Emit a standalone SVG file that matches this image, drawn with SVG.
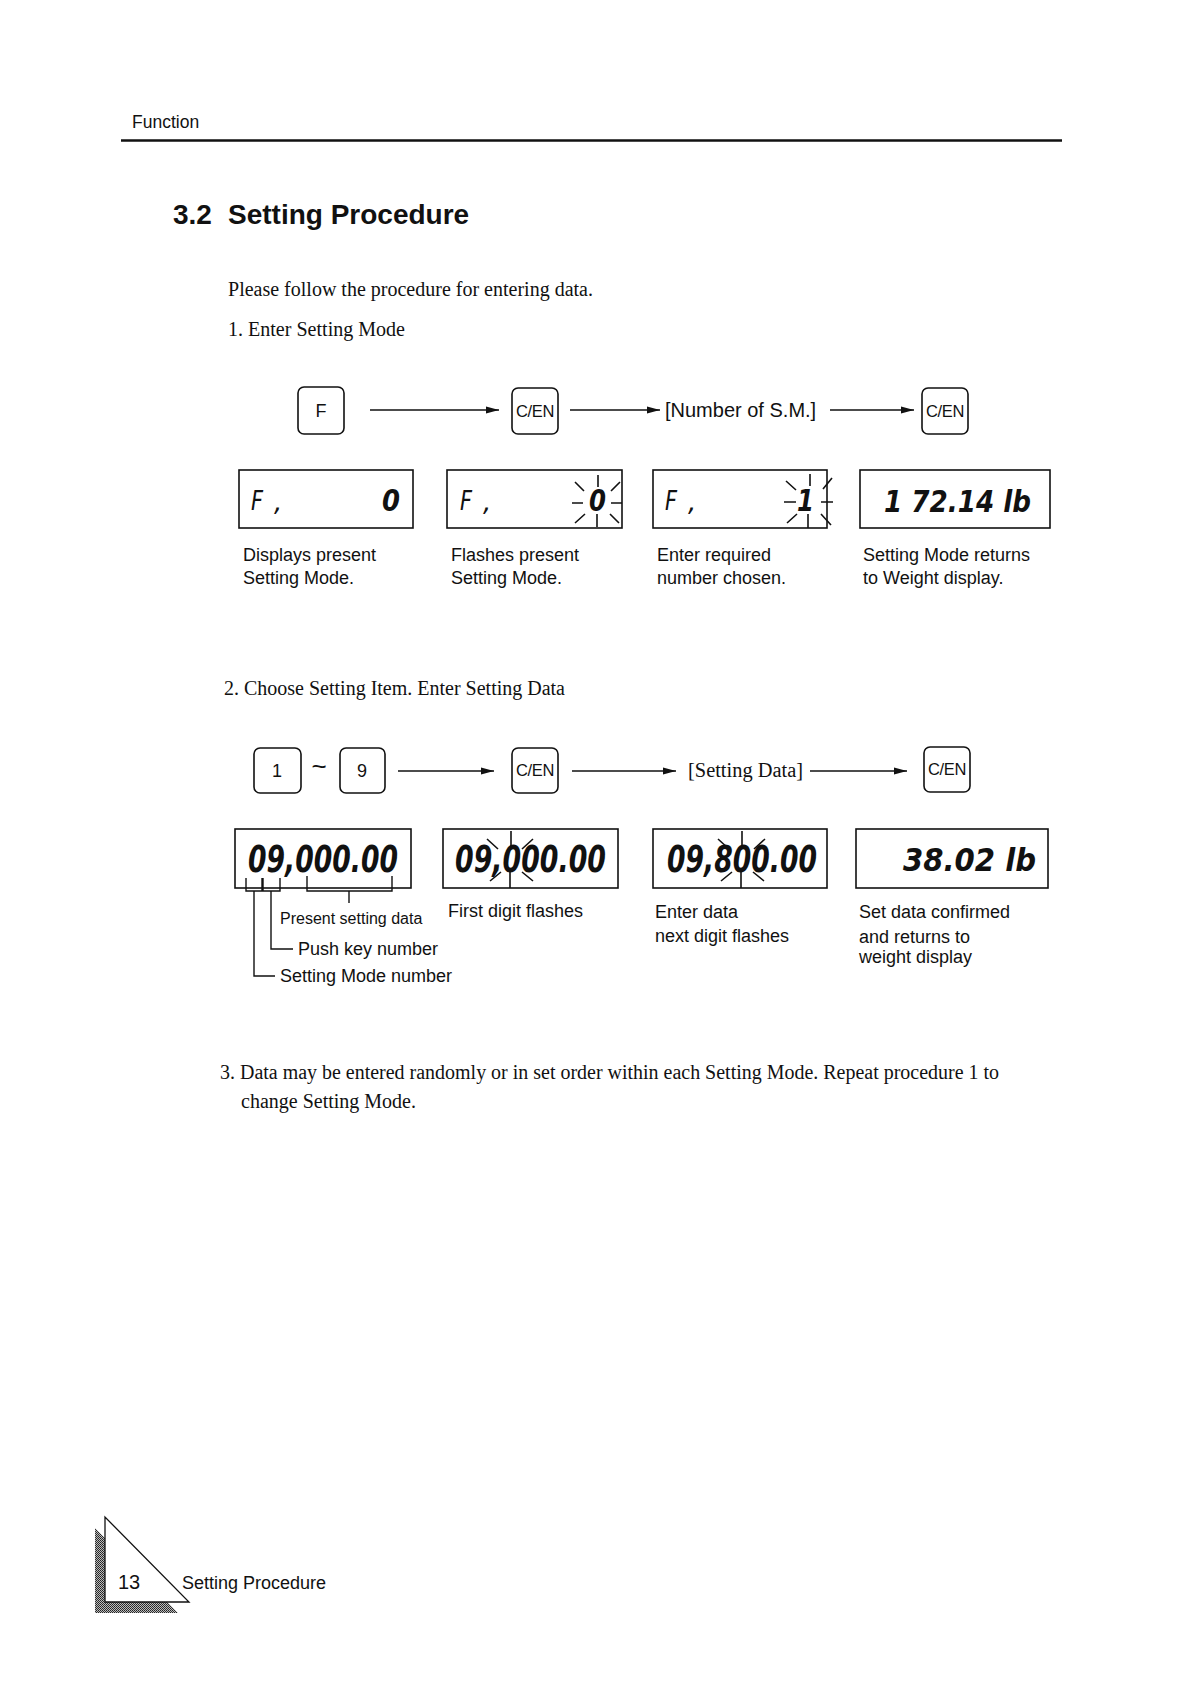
<svg xmlns="http://www.w3.org/2000/svg" width="1186" height="1682" viewBox="0 0 1186 1682">
<style>
.sans{font-family:"Liberation Sans",Arial,sans-serif;fill:#111}
.serif{font-family:"Liberation Serif","Times New Roman",serif;fill:#111;font-size:20px}
.cap{font-size:18px}
.key{fill:#fff;stroke:#111;stroke-width:1.6}
.keyt{font-family:"Liberation Sans",Arial,sans-serif;fill:#111;text-anchor:middle}
.cen{font-size:16.5px;letter-spacing:-0.4px}
.disp{fill:#fff;stroke:#111;stroke-width:1.6}
.lcd{font-family:"DejaVu Sans",sans-serif;font-style:oblique;font-weight:bold;fill:#111}
.lcdt{font-family:"DejaVu Sans",sans-serif;font-style:oblique;font-weight:normal;fill:#111}
.ray{stroke:#111;stroke-width:1.6;fill:none}
.arr{stroke:#111;stroke-width:1.4;fill:none;marker-end:url(#ah)}
.ln{stroke:#111;stroke-width:1.4;fill:none}
</style>
<defs>
<marker id="ah" markerUnits="userSpaceOnUse" markerWidth="13" markerHeight="8" refX="13" refY="4" orient="auto">
<path d="M0,0.5 L13,4 L0,7.5 z" fill="#111"/>
</marker>
<pattern id="dither" width="2" height="2" patternUnits="userSpaceOnUse">
<rect width="2" height="2" fill="#bbb"/>
<rect width="1" height="1" fill="#222"/>
<rect x="1" y="1" width="1" height="1" fill="#333"/>
</pattern>
</defs>
<rect width="1186" height="1682" fill="#fff"/>

<g id="header">
<text class="sans" x="132" y="128" font-size="17.5">Function</text>
<line x1="121" y1="140.5" x2="1062" y2="140.5" stroke="#111" stroke-width="2.6"/>
</g>

<g id="title">
<text class="sans" x="173" y="224" font-size="28" font-weight="bold">3.2</text>
<text class="sans" x="228" y="224" font-size="28" font-weight="bold">Setting Procedure</text>
</g>

<g id="intro">
<text class="serif" x="228" y="296" textLength="365" lengthAdjust="spacingAndGlyphs">Please follow the procedure for entering data.</text>
<text class="serif" x="228" y="336" textLength="177" lengthAdjust="spacingAndGlyphs">1. Enter Setting Mode</text>
</g>

<!-- Row 1 keys -->
<g id="key-F">
<rect class="key" x="298" y="387" width="46" height="47" rx="6"/>
<text class="keyt" x="321" y="417" font-size="18">F</text>
</g>
<g id="key-CEN-1">
<rect class="key" x="512" y="388" width="46" height="46" rx="6"/>
<text class="keyt cen" x="535" y="417">C/EN</text>
</g>
<g id="label-number-sm">
<text class="sans" x="665" y="417" font-size="20">[Number of S.M.]</text>
</g>
<g id="key-CEN-2">
<rect class="key" x="922" y="388" width="46" height="46" rx="6"/>
<text class="keyt cen" x="945" y="417">C/EN</text>
</g>

<!-- Row 1 displays -->
<g id="disp-1-1">
<rect class="disp" x="239" y="470" width="174" height="58"/>
<text class="lcdt" x="251" y="510" font-size="26" textLength="12" lengthAdjust="spacingAndGlyphs">F</text>
<text class="lcdt" x="274" y="511" font-size="26">,</text>
<text class="lcd" x="382" y="511" font-size="30" textLength="18" lengthAdjust="spacingAndGlyphs">0</text>
</g>
<g id="disp-1-2">
<rect class="disp" x="447" y="470" width="175" height="58"/>
<text class="lcdt" x="460" y="510" font-size="26" textLength="12" lengthAdjust="spacingAndGlyphs">F</text>
<text class="lcdt" x="483" y="511" font-size="26">,</text>
<text class="lcd" x="589" y="511" font-size="30" textLength="17" lengthAdjust="spacingAndGlyphs">0</text>
<path class="ray" d="M598,475V487 M597,514V527 M572,503H583 M611,503H622 M575,482L584,491 M620,482L611,491 M575,523L585,514 M610,514L619,523"/>
</g>
<g id="disp-1-3">
<rect class="disp" x="653" y="470" width="174" height="58"/>
<text class="lcdt" x="665" y="510" font-size="26" textLength="12" lengthAdjust="spacingAndGlyphs">F</text>
<text class="lcdt" x="688" y="511" font-size="26">,</text>
<text class="lcd" x="797" y="511" font-size="30" textLength="17" lengthAdjust="spacingAndGlyphs">1</text>
<path class="ray" d="M810,474V486 M808,514V528 M784,502H796 M821,502H833 M786,481L796,490 M832,478L823,489 M787,523L797,514 M821,514L831,525"/>
</g>
<g id="disp-1-4">
<rect class="disp" x="860" y="470" width="190" height="58"/>
<text class="lcd" x="884" y="512" font-size="30" textLength="147" lengthAdjust="spacingAndGlyphs">1 72.14 lb</text>
</g>

<g id="captions-1">
<text class="sans cap" x="243" y="561">Displays present</text>
<text class="sans cap" x="243" y="584">Setting Mode.</text>
<text class="sans cap" x="451" y="561">Flashes present</text>
<text class="sans cap" x="451" y="584">Setting Mode.</text>
<text class="sans cap" x="657" y="561">Enter required</text>
<text class="sans cap" x="657" y="584">number chosen.</text>
<text class="sans cap" x="863" y="561">Setting Mode returns</text>
<text class="sans cap" x="863" y="584">to Weight display.</text>
</g>

<g id="section2">
<text class="serif" x="224" y="695" textLength="341" lengthAdjust="spacingAndGlyphs">2. Choose Setting Item. Enter Setting Data</text>
</g>

<!-- Row 2 keys -->
<g id="key-1">
<rect class="key" x="254" y="748" width="47" height="45" rx="6"/>
<text class="keyt" x="277" y="777" font-size="18">1</text>
</g>
<g id="tilde">
<text class="keyt" x="319" y="775" font-size="26">~</text>
</g>
<g id="key-9">
<rect class="key" x="340" y="748" width="45" height="45" rx="6"/>
<text class="keyt" x="362" y="777" font-size="18">9</text>
</g>
<g id="key-CEN-3">
<rect class="key" x="512" y="748" width="46" height="45" rx="6"/>
<text class="keyt cen" x="535" y="776">C/EN</text>
</g>
<g id="label-setting-data">
<text class="serif" x="688" y="777" textLength="115" lengthAdjust="spacingAndGlyphs">[Setting Data]</text>
</g>
<g id="key-CEN-4">
<rect class="key" x="924" y="747" width="46" height="45" rx="6"/>
<text class="keyt cen" x="947" y="775">C/EN</text>
</g>

<!-- Row 2 displays -->
<g id="disp-2-1">
<rect class="disp" x="235" y="829" width="176" height="59"/>
<text class="lcd" x="248" y="872" font-size="38" textLength="150" lengthAdjust="spacingAndGlyphs">09,000.00</text>
<path class="ln" d="M246,878V891H262V878 M263,878V891H280V878 M307,876V891H392V876 M349,891V903"/>
<path class="ln" d="M254,891V976H275 M271,891V949H293"/>
</g>
<g id="disp-2-2">
<rect class="disp" x="443" y="829" width="175" height="59"/>
<text class="lcd" x="455" y="872" font-size="38" textLength="151" lengthAdjust="spacingAndGlyphs">09,000.00</text>
<path class="ray" d="M511,831V848 M510,870V888 M487,839L498,849 M533,839L522,849 M490,881L501,872 M522,872L533,881"/>
</g>
<g id="disp-2-3">
<rect class="disp" x="653" y="829" width="174" height="59"/>
<text class="lcd" x="667" y="872" font-size="38" textLength="150" lengthAdjust="spacingAndGlyphs">09,800.00</text>
<path class="ray" d="M742,831V848 M741,870V888 M718,839L729,849 M765,839L754,849 M721,881L732,872 M753,872L764,881"/>
</g>
<g id="disp-2-4">
<rect class="disp" x="856" y="829" width="192" height="59"/>
<text class="lcd" x="903" y="871" font-size="32" textLength="133" lengthAdjust="spacingAndGlyphs">38.02 lb</text>
</g>

<g id="captions-2">
<text class="sans" x="280" y="924" font-size="16">Present setting data</text>
<text class="sans cap" x="298" y="955">Push key number</text>
<text class="sans cap" x="280" y="982">Setting Mode number</text>
<text class="sans cap" x="448" y="917">First digit flashes</text>
<text class="sans cap" x="655" y="918">Enter data</text>
<text class="sans cap" x="655" y="942">next digit flashes</text>
<text class="sans cap" x="859" y="918">Set data confirmed</text>
<text class="sans cap" x="859" y="943">and returns to</text>
<text class="sans cap" x="859" y="963">weight display</text>
</g>

<g id="section3">
<text class="serif" x="220" y="1079" textLength="779" lengthAdjust="spacingAndGlyphs">3. Data may be entered randomly or in set order within each Setting Mode. Repeat procedure 1 to</text>
<text class="serif" x="241" y="1108" textLength="175" lengthAdjust="spacingAndGlyphs">change Setting Mode.</text>
</g>

<g id="connectors">
<line class="arr" x1="370" y1="410" x2="499" y2="410"/>
<line class="arr" x1="570" y1="410" x2="660" y2="410"/>
<line class="arr" x1="830" y1="410" x2="914" y2="410"/>
<line class="arr" x1="398" y1="771" x2="494" y2="771"/>
<line class="arr" x1="572" y1="771" x2="676" y2="771"/>
<line class="arr" x1="810" y1="771" x2="907" y2="771"/>
</g>

<g id="footer">
<polygon points="95,1528 95,1613 178,1613" fill="url(#dither)"/>
<polygon points="105,1517 105,1602 189,1602" fill="#fff" stroke="#111" stroke-width="1.3"/>
<text class="sans" x="118" y="1589" font-size="20">13</text>
<text class="sans" x="182" y="1589" font-size="18">Setting Procedure</text>
</g>
</svg>
